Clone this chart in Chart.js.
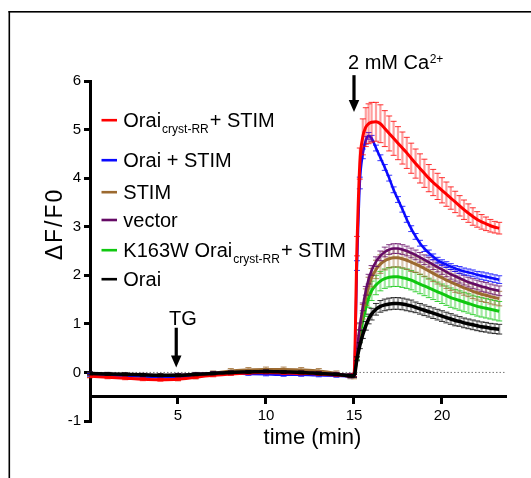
<!DOCTYPE html>
<html>
<head>
<meta charset="utf-8">
<script src="https://cdn.jsdelivr.net/npm/chart.js@4.4.1/dist/chart.umd.min.js"></script>
<style>
html,body{margin:0;padding:0;background:#ffffff;overflow:hidden;}
#box{position:absolute;left:0;top:0;width:531px;height:478px;}
</style>
</head>
<body>
<div id="box"><canvas id="chart" width="531" height="478"></canvas></div>
<script>
// ---------------- data (time in min, values ΔF/F0) ----------------
const TIME = [0,1,2,3,4,5,6,7,8,9,10,11,12,13,14,14.8,15,15.17,15.33,15.5,15.67,15.83,
  16,16.25,16.5,16.75,17,17.25,17.5,17.75,18,18.25,18.5,18.75,19,19.25,19.5,19.75,
  20,20.25,20.5,20.75,21,21.25,21.5,21.75,22,22.25,22.5,22.75,23,23.25];

const ORAI_CRYST_STIM = [-0.08,-0.1,-0.12,-0.14,-0.15,-0.14,-0.1,-0.06,-0.03,-0.01,0.0,-0.01,-0.02,-0.03,-0.05,-0.07,
  -0.06, 2.6,4.3,4.85,5.05,5.12,
  5.15,5.16,5.12,5.02,4.92,4.82,4.72,4.62,4.52,4.41,4.3,4.2,4.1,4.0,3.91,3.83,3.75,3.67,3.59,3.51,3.43,3.35,3.28,3.21,3.15,3.1,3.06,3.02,2.99,2.97];
const ORAI_CRYST_STIM_ERR = [0.03,0.03,0.03,0.03,0.03,0.03,0.03,0.03,0.03,0.03,0.03,0.03,0.03,0.03,0.03,0.03,
  0.03, 0.2,0.32,0.37,0.4,0.41,
  0.41,0.4,0.39,0.37,0.36,0.35,0.34,0.33,0.32,0.31,0.3,0.3,0.29,0.28,0.27,0.27,0.26,0.25,0.23,0.22,0.21,0.2,0.19,0.18,0.16,0.15,0.14,0.13,0.12,0.12];

const ORAI_STIM = [-0.05,-0.06,-0.07,-0.08,-0.09,-0.09,-0.06,-0.03,-0.02,-0.03,-0.04,-0.05,-0.05,-0.06,-0.07,-0.08,
  -0.07, 2.2,3.9,4.5,4.78,4.87,
  4.82,4.62,4.42,4.22,4.0,3.76,3.56,3.36,3.15,2.96,2.8,2.66,2.55,2.46,2.38,2.31,2.26,2.22,2.18,2.14,2.11,2.08,2.06,2.04,2.01,1.99,1.97,1.95,1.93,1.91];
const ORAI_STIM_ERR = [0.03,0.03,0.03,0.03,0.03,0.03,0.03,0.03,0.03,0.03,0.03,0.03,0.03,0.03,0.03,0.03,
  0.03, 0.1,0.12,0.1,0.08,0.07,
  0.06,0.06,0.06,0.06,0.06,0.06,0.06,0.06,0.06,0.06,0.06,0.06,0.06,0.06,0.06,0.06,0.06,0.06,0.06,0.06,0.07,0.07,0.07,0.07,0.07,0.08,0.08,0.08,0.08,0.08];

const STIM = [-0.05,-0.06,-0.07,-0.08,-0.1,-0.12,-0.08,-0.02,0.03,0.05,0.06,0.06,0.05,0.03,-0.02,-0.08,
  -0.08, 0.4,0.88,1.25,1.55,1.78,
  1.95,2.12,2.23,2.3,2.34,2.36,2.36,2.34,2.31,2.27,2.23,2.19,2.14,2.09,2.04,1.99,1.95,1.9,1.86,1.82,1.78,1.74,1.71,1.67,1.64,1.61,1.59,1.56,1.54,1.52];
const STIM_ERR = [0.05,0.05,0.05,0.05,0.05,0.05,0.05,0.05,0.05,0.05,0.05,0.05,0.05,0.05,0.05,0.05,
  0.05, 0.08,0.12,0.15,0.17,0.18,
  0.19,0.19,0.19,0.19,0.19,0.19,0.19,0.19,0.19,0.19,0.17,0.17,0.17,0.17,0.17,0.17,0.17,0.17,0.17,0.17,0.15,0.15,0.15,0.15,0.15,0.15,0.15,0.15,0.15,0.15];

const VECTOR = [-0.02,-0.03,-0.04,-0.05,-0.06,-0.05,-0.03,-0.01,0.0,0.01,0.02,0.01,0.0,-0.01,-0.03,-0.05,
  -0.05, 0.45,0.95,1.35,1.68,1.92,
  2.1,2.28,2.4,2.48,2.53,2.55,2.55,2.53,2.5,2.46,2.42,2.37,2.32,2.27,2.22,2.17,2.12,2.07,2.02,1.98,1.94,1.9,1.86,1.83,1.8,1.77,1.75,1.72,1.7,1.68];
const VECTOR_ERR = [0.03,0.03,0.03,0.03,0.03,0.03,0.03,0.03,0.03,0.03,0.03,0.03,0.03,0.03,0.03,0.03,
  0.03, 0.05,0.07,0.08,0.09,0.1,
  0.1,0.1,0.1,0.1,0.1,0.1,0.1,0.1,0.1,0.1,0.1,0.1,0.1,0.1,0.1,0.1,0.1,0.1,0.1,0.1,0.1,0.1,0.1,0.1,0.1,0.1,0.1,0.1,0.1,0.1];

const K163W_STIM = [-0.03,-0.04,-0.05,-0.06,-0.07,-0.07,-0.05,-0.02,0.0,0.01,0.01,0.0,-0.01,-0.02,-0.04,-0.06,
  -0.06, 0.35,0.75,1.07,1.33,1.53,
  1.68,1.8,1.88,1.93,1.96,1.97,1.97,1.95,1.93,1.9,1.86,1.82,1.78,1.74,1.7,1.66,1.62,1.58,1.54,1.51,1.48,1.45,1.42,1.39,1.36,1.34,1.32,1.3,1.28,1.26];
const K163W_STIM_ERR = [0.03,0.03,0.03,0.03,0.03,0.03,0.03,0.03,0.03,0.03,0.03,0.03,0.03,0.03,0.03,0.03,
  0.03, 0.08,0.12,0.15,0.18,0.19,
  0.2,0.2,0.2,0.2,0.2,0.2,0.2,0.2,0.2,0.2,0.2,0.2,0.2,0.2,0.2,0.2,0.2,0.2,0.2,0.2,0.2,0.2,0.2,0.2,0.2,0.2,0.2,0.2,0.2,0.2];

const ORAI = [-0.02,-0.03,-0.04,-0.05,-0.06,-0.06,-0.04,-0.02,0.0,0.01,0.02,0.01,0.0,-0.02,-0.04,-0.07,
  -0.07, 0.28,0.55,0.78,0.96,1.1,
  1.2,1.3,1.36,1.39,1.41,1.42,1.42,1.41,1.39,1.37,1.34,1.31,1.28,1.25,1.22,1.19,1.16,1.13,1.1,1.07,1.05,1.02,1.0,0.98,0.96,0.94,0.93,0.91,0.9,0.89];
const ORAI_ERR = [0.03,0.03,0.03,0.03,0.03,0.03,0.03,0.03,0.03,0.03,0.03,0.03,0.03,0.03,0.03,0.03,
  0.03, 0.04,0.06,0.08,0.09,0.1,
  0.12,0.12,0.12,0.12,0.12,0.12,0.12,0.12,0.12,0.12,0.11,0.11,0.11,0.11,0.11,0.11,0.11,0.11,0.11,0.11,0.1,0.1,0.1,0.1,0.1,0.1,0.1,0.1,0.1,0.1];

const ZERO_X = [0, 23.58];
const ZERO_Y = [0, 0];
const X_TICKS = [5, 10, 15, 20];
const Y_TICKS = [-1, 0, 1, 2, 3, 4, 5, 6];

// ---------------- styling ----------------
const FONT = '"Liberation Sans", Arial, Helvetica, sans-serif';
const C_RED = '#ff0000', C_BLUE = '#0a0aff', C_BROWN = '#9c6a30', C_PURPLE = '#650a65', C_GREEN = '#10c810', C_BLACK = '#000000';

function pts(ys) { return TIME.map((t, i) => ({x: t, y: ys[i]})); }
function rgba(hex, a) {
  const n = parseInt(hex.slice(1), 16);
  return `rgba(${(n >> 16) & 255},${(n >> 8) & 255},${n & 255},${a})`;
}
function series(ys, errs, color, width) {
  return {data: pts(ys), errors: errs, borderColor: color, backgroundColor: color, borderWidth: width,
    pointRadius: 0, cubicInterpolationMode: 'monotone', fill: false,
    barColor: rgba(color, 0.38), capColor: rgba(color, 0.8)};
}

const datasets = [
  series(ORAI, ORAI_ERR, C_BLACK, 3.5),
  series(ORAI_CRYST_STIM, ORAI_CRYST_STIM_ERR, C_RED, 3),
  series(ORAI_STIM, ORAI_STIM_ERR, C_BLUE, 2.5),
  series(VECTOR, VECTOR_ERR, C_PURPLE, 2.5),
  series(STIM, STIM_ERR, C_BROWN, 3),
  series(K163W_STIM, K163W_STIM_ERR, C_GREEN, 3),
  {data: ZERO_X.map((x, i) => ({x, y: ZERO_Y[i]})), borderColor: '#777777', borderWidth: 1,
   borderDash: [1.5, 2], pointRadius: 0, fill: false}
];

const LEGEND = [
  {color: C_RED, parts: ['Orai', 'cryst-RR', '+ STIM'], base: 126.7},
  {color: C_BLUE, parts: ['Orai + STIM'], base: 166.7},
  {color: C_BROWN, parts: ['STIM'], base: 198.7},
  {color: C_PURPLE, parts: ['vector'], base: 226.5},
  {color: C_GREEN, parts: ['K163W Orai', 'cryst-RR', '+ STIM'], base: 256.7},
  {color: C_BLACK, parts: ['Orai'], base: 285.7}
];

function drawArrow(ctx, x, yTop, yTip) {
  const headH = 12, headW = 10.5;
  ctx.fillStyle = '#000';
  ctx.fillRect(x - 1.6, yTop, 3.2, (yTip - headH) - yTop + 1);
  ctx.beginPath();
  ctx.moveTo(x - headW / 2, yTip - headH);
  ctx.lineTo(x + headW / 2, yTip - headH);
  ctx.lineTo(x, yTip);
  ctx.closePath();
  ctx.fill();
}

const overlay = {
  id: 'overlay',
  beforeDatasetDraw(chart, args) {
    const ds = chart.data.datasets[args.index];
    if (!ds.errors) return;
    const {ctx} = chart;
    const xs = chart.scales.x, ys = chart.scales.y;
    ctx.save();
    ds.data.forEach((p, i) => {
      const e = ds.errors[i];
      if (!e) return;
      const px = xs.getPixelForValue(p.x);
      const y1 = ys.getPixelForValue(p.y - e);
      const y2 = ys.getPixelForValue(p.y + e);
      ctx.strokeStyle = ds.barColor;
      ctx.lineWidth = 2.2;
      ctx.beginPath(); ctx.moveTo(px, y1); ctx.lineTo(px, y2); ctx.stroke();
      ctx.strokeStyle = ds.capColor;
      ctx.lineWidth = 1;
      ctx.beginPath();
      ctx.moveTo(px - 3, y1); ctx.lineTo(px + 3, y1);
      ctx.moveTo(px - 3, y2); ctx.lineTo(px + 3, y2);
      ctx.stroke();
    });
    ctx.restore();
  },
  afterDraw(chart) {
    const {ctx} = chart;
    const xs = chart.scales.x, ys = chart.scales.y;
    ctx.save();
    // frame
    ctx.fillStyle = '#000';
    ctx.fillRect(8.5, 11, 1.6, 467);
    ctx.fillRect(8.5, 11, 523, 1.6);

    // axis titles
    ctx.fillStyle = '#000';
    ctx.font = `22px ${FONT}`;
    ctx.textAlign = 'center';
    ctx.textBaseline = 'alphabetic';
    ctx.fillText('time (min)', 312.5, 443.5);

    ctx.save();
    ctx.translate(61.5, 224);
    ctx.rotate(-Math.PI / 2);
    ctx.font = `23px ${FONT}`;
    try { ctx.letterSpacing = '2px'; } catch (e) {}
    ctx.textAlign = 'center';
    ctx.fillText('ΔF/F0', 0, 0);
    ctx.restore();

    // legend
    ctx.textAlign = 'left';
    LEGEND.forEach(item => {
      ctx.strokeStyle = item.color;
      ctx.lineWidth = 2.6;
      ctx.beginPath();
      ctx.moveTo(101.5, item.base - 6.5);
      ctx.lineTo(117, item.base - 6.5);
      ctx.stroke();
      ctx.fillStyle = '#000';
      let x = 123.3;
      ctx.font = `20px ${FONT}`;
      ctx.fillText(item.parts[0], x, item.base);
      x += ctx.measureText(item.parts[0]).width + 1;
      if (item.parts.length > 1) {
        ctx.font = `12px ${FONT}`;
        ctx.fillText(item.parts[1], x, item.base + 6);
        x += ctx.measureText(item.parts[1]).width + 1;
        ctx.font = `20px ${FONT}`;
        ctx.fillText(item.parts[2], x, item.base);
      }
    });

    // annotations
    drawArrow(ctx, xs.getPixelForValue(4.9), ys.getPixelForValue(0.92), ys.getPixelForValue(0.1));
    drawArrow(ctx, xs.getPixelForValue(15.0), ys.getPixelForValue(6.12), ys.getPixelForValue(5.36));
    ctx.fillStyle = '#000';
    ctx.font = `20px ${FONT}`;
    ctx.textAlign = 'center';
    ctx.fillText('TG', xs.getPixelForValue(5.28), ys.getPixelForValue(0.97));
    ctx.textAlign = 'left';
    const cx = xs.getPixelForValue(14.66);
    const cy = ys.getPixelForValue(6.255);
    ctx.fillText('2 mM Ca', cx, cy);
    const w = ctx.measureText('2 mM Ca').width;
    ctx.font = `12px ${FONT}`;
    ctx.fillText('2+', cx + w + 0.5, ys.getPixelForValue(6.375));
    ctx.restore();
  }
};

Chart.defaults.font.family = FONT;
Chart.defaults.color = '#000';

new Chart(document.getElementById('chart'), {
  type: 'line',
  data: {datasets},
  plugins: [overlay],
  options: {
    responsive: false,
    animation: false,
    devicePixelRatio: 1,
    layout: {padding: {left: 0, top: 81, right: 26, bottom: 57}},
    plugins: {legend: {display: false}, tooltip: {enabled: false}},
    scales: {
      x: {
        type: 'linear', min: 0, max: 23.58,
        position: {y: -0.5},
        afterBuildTicks: s => { s.ticks = X_TICKS.map(v => ({value: v})); },
        grid: {display: true, drawOnChartArea: false, drawTicks: true, tickLength: 6, tickWidth: 3, lineWidth: 3, tickColor: '#000', color: '#000'},
        border: {display: true, width: 3, color: '#000'},
        ticks: {font: {family: FONT, size: 15}, color: '#000', padding: 4, maxRotation: 0, autoSkip: false}
      },
      y: {
        type: 'linear', min: -1, max: 6, position: 'left',
        afterFit: s => { s.width = 90; },
        afterBuildTicks: s => { s.ticks = Y_TICKS.map(v => ({value: v})); },
        grid: {display: true, drawOnChartArea: false, drawTicks: true, tickLength: 6, tickWidth: 3, lineWidth: 3, tickColor: '#000', color: '#000'},
        border: {display: true, width: 3, color: '#000'},
        ticks: {font: {family: FONT, size: 15}, color: '#000', padding: 3}
      }
    }
  }
});
</script>
</body>
</html>
